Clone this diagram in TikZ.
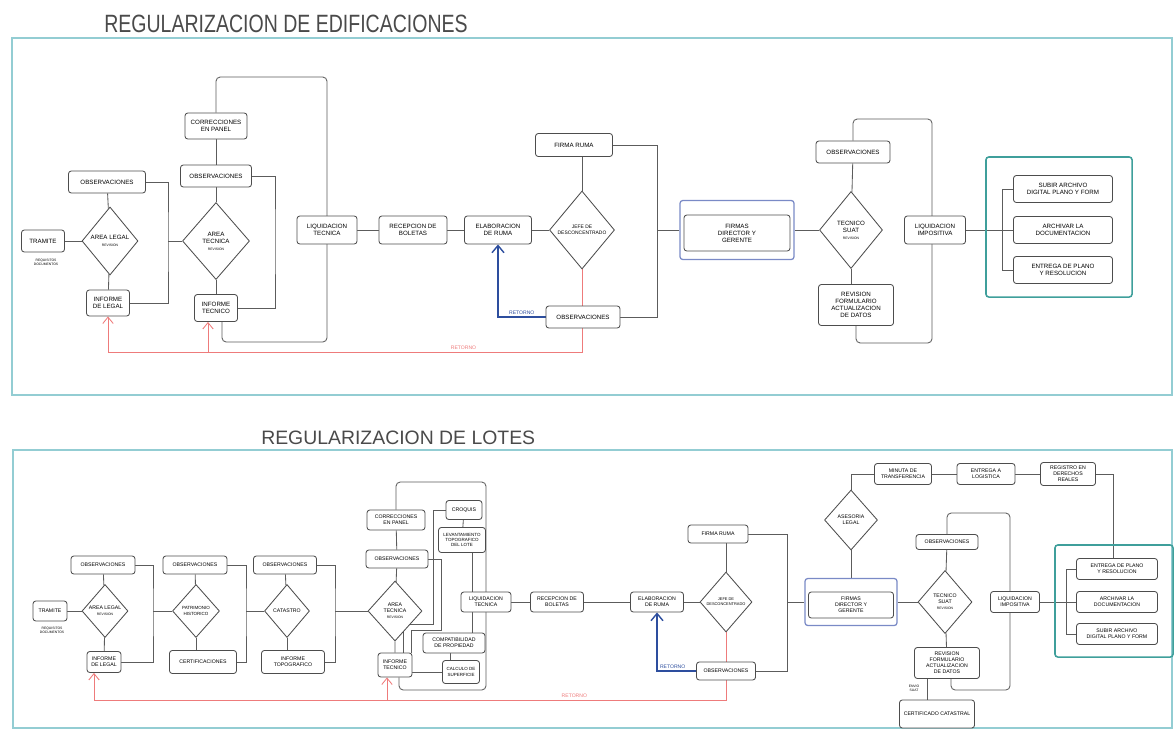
\documentclass[tikz,border=0pt]{standalone}
\usepackage{fontspec}
\setmainfont{Liberation Sans}
\usetikzlibrary{shapes.geometric,arrows.meta,backgrounds}

\definecolor{linegray}{HTML}{5C5C5C}
\definecolor{boxgray}{HTML}{4D4D4D}
\definecolor{titlegray}{HTML}{4A4A4A}
\definecolor{panelteal}{HTML}{93CDD3}
\definecolor{groupteal}{HTML}{3F9F9B}
\definecolor{firmblue}{HTML}{7A8AC6}
\definecolor{retred}{HTML}{EE7B7B}
\definecolor{retblue}{HTML}{2D4E9E}

\newcommand{\boxfont}{\fontsize{4.4}{5}\selectfont}
\newcommand{\lotfont}{\fontsize{3.7}{4.2}\selectfont}
\newcommand{\notefont}{\fontsize{2.4}{2.8}\selectfont}
\newcommand{\retfont}{\fontsize{3.6}{4}\selectfont}

\begin{document}
\begin{tikzpicture}[
        x=0.025cm, y=-0.025cm,
        box/.style 2 args={draw=boxgray, rounded corners=2pt, fill=white, line width=0.6pt, minimum width=#1*0.25mm, minimum height=#2*0.25mm, inner sep=0.5pt, align=center, font=\boxfont},
        lotbox/.style 2 args={box={#1}{#2}, font=\lotfont},
        choice/.style 2 args={diamond, draw=boxgray, fill=white, line width=0.6pt, minimum width=#1*0.25mm, minimum height=#2*0.25mm, inner sep=0pt, align=center, font=\boxfont},
        lotchoice/.style 2 args={choice={#1}{#2}, font=\lotfont},
        group/.style 2 args={draw=groupteal, rounded corners=2pt, line width=1.1pt, minimum width=#1*0.25mm, minimum height=#2*0.25mm},
        signbox/.style 2 args={draw=firmblue, rounded corners=2pt, line width=0.9pt, minimum width=#1*0.25mm, minimum height=#2*0.25mm},
        panel/.style={draw=panelteal, line width=1.2pt},
        link/.style={draw=linegray, line width=0.6pt},
        back/.style={draw=retred, line width=0.6pt, -{Straight Barb[length=1.6mm, width=2.6mm]}},
        again/.style={draw=retblue, line width=1pt, -{Straight Barb[length=1.8mm, width=3mm]}},
        tag/.style={font=\notefont, align=center, inner sep=1pt},
        rettag/.style={font=\retfont, inner sep=1.5pt},
        title/.style={text=titlegray, anchor=west, inner sep=0pt}
    ]
        \useasboundingbox (0,0) rectangle (1174,731);

        % titles
        \node[title, font=\fontsize{17.8}{20}\selectfont] (titleA) at (104,24) {\scalebox{0.78}[1]{REGULARIZACION DE EDIFICACIONES}};
        \node[title, font=\fontsize{13.8}{16}\selectfont] (titleB) at (261,438) {REGULARIZACION DE LOTES};

        % ---- regularizacion de edificaciones ----
        \node[box={43}{22}] (tramA) at (43,241) {TRAMITE};
        \node[tag] (reqA) at (46,262) {REQUISITOS\\DOCUMENTOS};
        \node[choice={56}{68}] (legalA) at (110,241) {AREA LEGAL\\{\notefont REVISION}};
        \node[box={77}{22}] (obsA1) at (107,182) {OBSERVACIONES};
        \node[box={43}{26}] (infA1) at (108,303) {INFORME\\DE LEGAL};
        \coordinate (brA1) at (168,241);
        \node[choice={67}{77}] (tecA) at (216,241) {AREA\\TECNICA\\{\notefont REVISION}};
        \node[box={71}{22}] (obsA2) at (216,176) {OBSERVACIONES};
        \node[box={62}{26}] (corA) at (216,126) {CORRECCIONES\\EN PANEL};
        \node[box={43}{27}] (infA2) at (216,308) {INFORME\\TECNICO};
        \coordinate (brA2) at (275,241);
        \coordinate (loopA1) at (327,77);
        \coordinate (loopA2) at (327,342);
        \node[box={60}{28}] (liqA) at (327,230) {LIQUIDACION\\TECNICA};
        \node[box={68}{28}] (recA) at (413,230) {RECEPCION DE\\BOLETAS};
        \node[box={67}{28}] (elaA) at (498,230) {ELABORACION\\DE RUMA};
        \node[choice={65}{78}, font=\fontsize{3.5}{4.2}\selectfont] (jefA) at (582,230) {JEFE DE\\DESCONCENTRADO};
        \node[box={77}{23}] (firA) at (574,145) {FIRMA RUMA};
        \node[box={74}{22}] (obsA3) at (583,317) {OBSERVACIONES};
        \coordinate (redA) at (582,352);
        \coordinate (brA3) at (657,230);
        \node[signbox={114}{59}] (dirAo) at (737,230) {};
        \node[box={106}{36}] (dirA) at (737,233) {FIRMAS\\DIRECTOR Y\\GERENTE};
        \node[choice={63}{77}] (suatA) at (851,230) {TECNICO\\SUAT\\{\notefont REVISION}};
        \node[box={74}{22}] (obsA4) at (853,152) {OBSERVACIONES};
        \node[box={75}{41}] (revA) at (856,305) {REVISION\\FORMULARIO\\ACTUALIZACION\\DE DATOS};
        \coordinate (loopA3) at (932,119);
        \coordinate (loopA4) at (932,343);
        \node[box={61}{28}] (impA) at (935,230) {LIQUIDACION\\IMPOSITIVA};
        \node[group={146}{140}] (finA) at (1059,227) {};
        \node[box={99}{27}] (subA) at (1063,189) {SUBIR ARCHIVO\\DIGITAL PLANO Y FORM};
        \node[box={99}{27}] (arcA) at (1063,230) {ARCHIVAR LA\\DOCUMENTACION};
        \node[box={99}{27}] (entA) at (1063,270) {ENTREGA DE PLANO\\Y RESOLUCION};
        \coordinate (brA4) at (1002,230);

        % ---- regularizacion de lotes ----
        \node[lotbox={34}{20}] (tramB) at (50,611) {TRAMITE};
        \node[tag] (reqB) at (52,630) {REQUISITOS\\DOCUMENTOS};
        \node[lotchoice={46}{53}] (legalB) at (105,611) {AREA LEGAL\\{\notefont REVISION}};
        \node[lotbox={64}{18}] (obsB1) at (103,565) {OBSERVACIONES};
        \node[lotbox={34}{21}] (infB1) at (104,662) {INFORME\\DE LEGAL};
        \coordinate (brB1) at (153,611);
        \node[lotchoice={47}{53}, font=\fontsize{3.2}{3.8}\selectfont] (patB) at (196,611) {PATRIMONIO\\HISTORICO};
        \node[lotbox={64}{18}] (obsB2) at (195,565) {OBSERVACIONES};
        \node[lotbox={67}{23}] (cerB) at (203,662) {CERTIFICACIONES};
        \coordinate (brB2) at (246,611);
        \node[lotchoice={45}{53}] (catB) at (287,611) {CATASTRO};
        \node[lotbox={63}{18}] (obsB3) at (285,565) {OBSERVACIONES};
        \node[lotbox={63}{23}] (topB) at (293,662) {INFORME\\TOPOGRAFICO};
        \coordinate (brB3) at (335,611);
        \node[lotchoice={54}{60}] (tecB) at (395,611) {AREA\\TECNICA\\{\notefont REVISION}};
        \node[lotbox={62}{18}] (obsB4) at (397,559) {OBSERVACIONES};
        \node[lotbox={58}{20}] (corB) at (396,520) {CORRECCIONES\\EN PANEL};
        \node[lotbox={34}{24}] (infB2) at (395,665) {INFORME\\TECNICO};
        \node[lotbox={36}{19}] (insB) at (464,510) {CROQUIS};
        \node[lotbox={47}{25}, font=\fontsize{3.2}{3.8}\selectfont] (levB) at (462,540) {LEVANTAMIENTO\\TOPOGRAFICO\\DEL LOTE};
        \node[lotbox={62}{20}] (comB) at (454,643) {COMPATIBILIDAD\\DE PROPIEDAD};
        \node[lotbox={37}{23}, font=\fontsize{3.2}{3.8}\selectfont] (calB) at (461,672) {CALCULO DE\\SUPERFICIE};
        \coordinate (jB1) at (433,624);
        \coordinate (jB2) at (441,630);
        \coordinate (loopB1) at (486,482);
        \coordinate (loopB2) at (486,690);
        \node[lotbox={50}{20}] (liqB) at (486,602) {LIQUIDACION\\TECNICA};
        \node[lotbox={53}{20}] (recB) at (557,602) {RECEPCION DE\\BOLETAS};
        \node[lotbox={53}{20}] (elaB) at (657,602) {ELABORACION\\DE RUMA};
        \node[lotchoice={52}{60}, font=\fontsize{2.8}{3.4}\selectfont] (jefB) at (726,602) {JEFE DE\\DESCONCENTRADO};
        \node[lotbox={60}{18}] (firB) at (718,534) {FIRMA RUMA};
        \node[lotbox={59}{18}] (obsB5) at (726,671) {OBSERVACIONES};
        \coordinate (redB) at (726,700);
        \coordinate (brB4) at (787,602);
        \node[signbox={92}{47}] (dirBo) at (851,602) {};
        \node[lotbox={85}{26}] (dirB) at (851,605) {FIRMAS\\DIRECTOR Y\\GERENTE};
        \node[lotchoice={53}{60}] (aseB) at (851,520) {ASESORIA\\LEGAL};
        \node[lotbox={57}{21}] (minB) at (903,474) {MINUTA DE\\TRANSFERENCIA};
        \node[lotbox={58}{21}] (logB) at (986,474) {ENTREGA A\\LOGISTICA};
        \node[lotbox={55}{23}] (regB) at (1068,474) {REGISTRO EN\\DERECHOS\\REALES};
        \node[lotchoice={54}{63}] (suatB) at (945,602) {TECNICO\\SUAT\\{\notefont REVISION}};
        \node[lotbox={62}{15}] (obsB6) at (947,542) {OBSERVACIONES};
        \node[lotbox={65}{31}] (revB) at (947,663) {REVISION\\FORMULARIO\\ACTUALIZACION\\DE DATOS};
        \node[tag] (envB) at (914,688) {ENVIO\\SUAT};
        \node[lotbox={75}{28}] (certB) at (937,714) {CERTIFICADO CATASTRAL};
        \coordinate (loopB3) at (1010,513);
        \coordinate (loopB4) at (1010,690);
        \node[lotbox={49}{21}] (impB) at (1015,602) {LIQUIDACION\\IMPOSITIVA};
        \node[group={118}{112}] (finB) at (1114,601) {};
        \node[lotbox={81}{21}] (entB) at (1117,569) {ENTREGA DE PLANO\\Y RESOLUCION};
        \node[lotbox={81}{21}] (arcB) at (1117,602) {ARCHIVAR LA\\DOCUMENTACION};
        \node[lotbox={81}{21}] (subB) at (1117,634) {SUBIR ARCHIVO\\DIGITAL PLANO Y FORM};
        \coordinate (brB5) at (1066,602);

        \begin{scope}[on background layer]
        % frames
        \draw[panel] (12,38) rectangle (1172,395);
        \draw[panel] (13,450) rectangle (1172,728);

        % edificaciones
        \draw[link] (tramA) -- (legalA);
        \draw[link] (obsA1) -- (legalA) -- (infA1);
        \draw[link] (obsA1.east) -| (brA1) |- (infA1.east);
        \draw[link] (brA1) -- (tecA.west);
        \draw[link] (corA) -- (obsA2) -- (tecA) -- (infA2);
        \draw[link] (obsA2.east) -| (brA2) |- (infA2.east);
        \draw[link, rounded corners=3pt] ([xshift=1.5mm]infA2.south) |- (loopA2) -- (loopA1) -| (corA.north);
        \draw[link] (liqA) -- (recA) -- (elaA) -- (jefA);
        \draw[link] (jefA.north) -- (jefA.north |- firA.south);
        \draw[link] (firA.east) -| (brA3) |- (obsA3.east);
        \draw[link] (brA3) -- (dirAo.west);
        \draw[link] (dirAo.east) -- (suatA.west);
        \draw[link] (obsA4) -- (suatA);
        \draw[link] (suatA.south) -- (suatA.south |- revA.north);
        \draw[link, rounded corners=3pt] (obsA4.north) |- (loopA3) -- (loopA4) -| (revA.south);
        \draw[link] (impA.east) -- (brA4);
        \draw[link] (subA.west) -| (brA4) |- (entA.west);
        \draw[link] (brA4) -- (arcA.west);
        \draw[back] (jefA.south) -- (redA) -| node[pos=0.125, above, rettag, text=retred] {RETORNO} (infA1.south);
        \draw[back] ([xshift=-2mm]infA2.south |- redA) -- ([xshift=-2mm]infA2.south);
        \draw[again] (obsA3.west) -| node[pos=0.25, above, rettag, text=retblue] {RETORNO} (elaA.south);

        % lotes
        \draw[link] (tramB) -- (legalB);
        \draw[link] (obsB1) -- (legalB) -- (infB1);
        \draw[link] (obsB1.east) -| (brB1) |- (infB1.east);
        \draw[link] (brB1) -- (patB.west);
        \draw[link] (obsB2) -- (patB);
        \draw[link] (patB.south) -- (patB.south |- cerB.north);
        \draw[link] (obsB2.east) -| (brB2) |- (cerB.east);
        \draw[link] (brB2) -- (catB.west);
        \draw[link] (obsB3) -- (catB);
        \draw[link] (catB.south) -- (catB.south |- topB.north);
        \draw[link] (obsB3.east) -| (brB3) |- (topB.east);
        \draw[link] (brB3) -- (tecB.west);
        \draw[link] (corB) -- (obsB4) -- (tecB) -- (infB2);
        \draw[link, rounded corners=3pt] ([xshift=1mm]infB2.south) |- (loopB2) -- (loopB1) -| (corB.north);
        \draw[link] (insB.west) -| (jB1) -| ([xshift=2mm]infB2.north);
        \draw[link] (obsB4.east) -| (jB2) -| ([xshift=4mm]infB2.north);
        \draw[link] (insB) -- (levB);
        \draw[link] ([xshift=2.5mm]levB.south) -- ([xshift=2.5mm]levB.south |- comB.north);
        \draw[link] ([xshift=-1mm]comB.south) -- ([xshift=-1mm]comB.south |- calB.north);
        \draw[link] (calB.west) -- (calB.west -| infB2.east);
        \draw[link] (liqB) -- (recB) -- (elaB) -- (jefB);
        \draw[link] (jefB.north) -- (jefB.north |- firB.south);
        \draw[link] (firB.east) -| (brB4) |- (obsB5.east);
        \draw[link] (brB4) -- (dirBo.west);
        \draw[link] (dirBo.east) -- (suatB.west);
        \draw[link] (aseB) -- (dirBo);
        \draw[link] (aseB.north) |- (minB.west);
        \draw[link] (minB) -- (logB) -- (regB);
        \draw[link] (regB.east) -| ([xshift=-1mm]entB.north);
        \draw[link] (obsB6) -- (suatB) -- (revB);
        \draw[link, rounded corners=3pt] (obsB6.north) |- (loopB3) -- (loopB4) -| ([xshift=1mm]revB.south);
        \draw[link] ([xshift=-5mm]revB.south) -- ([xshift=-5mm]revB.south |- certB.north);
        \draw[link] (impB.east) -- (brB5);
        \draw[link] (entB.west) -| (brB5) |- (subB.west);
        \draw[link] (brB5) -- (arcB.west);
        \draw[back] (jefB.south) -- (redB) -| node[pos=0.12, above, rettag, text=retred] {RETORNO} ([xshift=-2.5mm]infB1.south);
        \draw[back] ([xshift=-2mm]infB2.south |- redB) -- ([xshift=-2mm]infB2.south);
        \draw[again] (obsB5.west) -| node[pos=0.3, above, rettag, text=retblue] {RETORNO} (elaB.south);
        \end{scope}
    \end{tikzpicture}
\end{document}
